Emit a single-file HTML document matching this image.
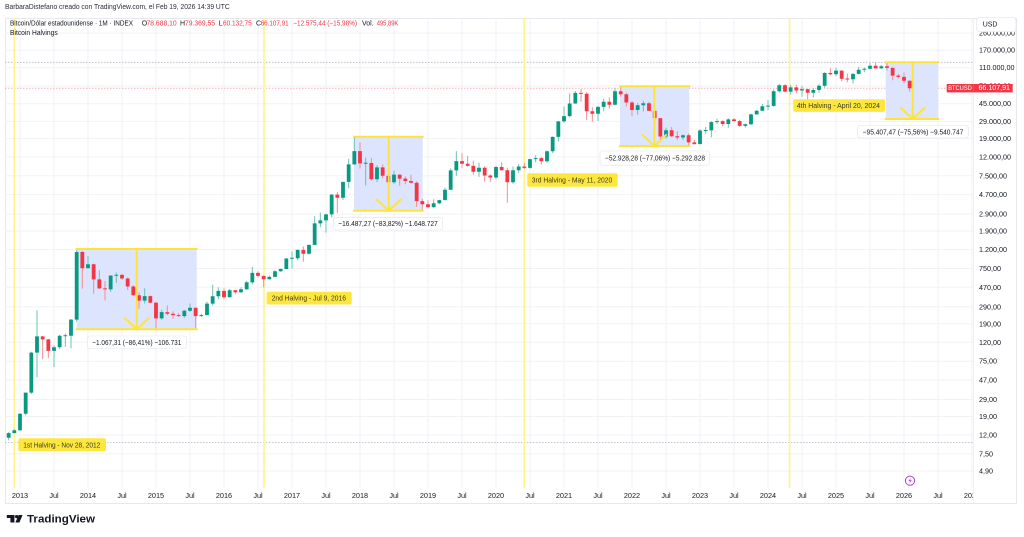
<!DOCTYPE html>
<html><head><meta charset="utf-8"><style>
html,body{margin:0;padding:0;background:#fff;}
svg{display:block;font-family:"Liberation Sans",sans-serif;}
</style></head><body>
<svg width="1024" height="537" viewBox="0 0 1024 537" xmlns="http://www.w3.org/2000/svg">
<defs>
<clipPath id="plot"><rect x="5" y="18" width="968" height="470"/></clipPath>
<clipPath id="taxis"><rect x="5" y="488" width="968" height="15"/></clipPath>
<clipPath id="yaxis"><rect x="974" y="32.2" width="50" height="460"/></clipPath>
</defs>
<rect width="1024" height="537" fill="#fff"/>
<rect x="5.5" y="18.5" width="1011" height="485" fill="none" stroke="#e6e8ee" stroke-width="1"/>
<line x1="973.5" y1="18" x2="973.5" y2="503" stroke="#eef0f4"/>
<!-- grid -->
<path fill="none" stroke="#f1f2f5" stroke-width="1" d="M5,33.1H973M5,50.2H973M5,67.7H973M5,85.9H973M5,103.7H973M5,121.4H973M5,138.4H973M5,156.9H973M5,175.8H973M5,194.6H973M5,214.1H973M5,231.1H973M5,249.6H973M5,268.5H973M5,287.3H973M5,306.8H973M5,323.8H973M5,342.3H973M5,361.2H973M5,380H973M5,399.5H973M5,416.5H973M5,435H973M5,453.9H973M5,471.1H973
M20,18V488M54,18V488M88,18V488M122,18V488M156,18V488M190,18V488M224,18V488M258,18V488M292,18V488M326,18V488M360,18V488M394,18V488M428,18V488M462,18V488M496,18V488M530,18V488M564,18V488M598,18V488M632,18V488M666,18V488M700,18V488M734,18V488M768,18V488M802,18V488M836,18V488M870,18V488M904,18V488M938,18V488M972,18V488"/>
<g clip-path="url(#plot)">
<line x1="5" y1="62.3" x2="973" y2="62.3" stroke="#b2b5be" stroke-width="0.8" stroke-dasharray="1.5,1.5"/>
<line x1="5" y1="442.5" x2="973" y2="442.5" stroke="#b2b5be" stroke-width="0.8" stroke-dasharray="1.5,1.5"/>
<line x1="5" y1="88.2" x2="973" y2="88.2" stroke="#f7a1a8" stroke-width="0.8" stroke-dasharray="1.5,1.5"/>
<g stroke="#fff38a" stroke-width="1.6">
<line x1="14.3" y1="18" x2="14.3" y2="488"/>
<line x1="264" y1="18" x2="264" y2="488"/>
<line x1="524.2" y1="18" x2="524.2" y2="488"/>
<line x1="789.6" y1="18" x2="789.6" y2="488"/>
</g>
<g fill="#dde4fd">
<rect x="76.7" y="249" width="120" height="80.3"/>
<rect x="354" y="136.7" width="68.7" height="74"/>
<rect x="620" y="86.3" width="69.3" height="59.7"/>
<rect x="885.7" y="62.3" width="52.6" height="56.7"/>
</g>
<!-- wicks -->
<path fill="none" stroke="#6cc3b3" stroke-width="1" d="M8.67,432.1V440.4M14.33,429.1V433.4M20,413.1V430.8M25.67,392.5V415.3M31.33,351.7V394M37,310.2V377.5M54,345.4V367M59.67,334.7V349.2M65.33,333.6V346.9M71,319V348.1M76.67,248.2V321.7M88,256.1V268.5M110.67,275.5V291.9M116.33,272.5V282.9M144.67,288.2V303.5M161.67,309.8V319.8M184.33,309.7V317.9M190,303.5V312M201.33,313.6V316.9M207,301.6V315.1M212.67,284.8V305.4M218.33,287.3V299.2M229.67,289V297.5M241,287.3V293.3M246.67,281V290M252.33,266.9V284.1M269.33,275.5V279.6M275,270.2V277.2M280.67,268.5V271.9M286.33,258.1V269.1M292,251.3V268.5M297.67,249.6V260.3M309,244.9V254.6M314.67,216.1V245.2M320.33,212.7V227.1M326,213.8V232.6M331.67,194V217.4M343,181.8V200M348.67,159V188.3M354.33,136.7V164.6M365.67,157.6V185.5M377,165.1V182M394,170.8V184.1M433.67,199.2V207.9M439.33,199.8V204.3M445,187.6V200.3M450.67,168.5V189.8M456.33,151.1V175.8M479,162.7V176.9M496,165.9V179.5M513,166.5V183.8M518.67,164V172.7M530,158.8V168.7M535.67,155.3V162.3M547,150.4V162.7M552.67,136.5V153.1M558.33,121V141.5M564,106.5V122.7M569.67,93.2V117.1M575.33,90.9V103.7M598,106.1V121M603.67,99V111.3M615,87.7V105.3M637.67,103V114.6M643.33,100.9V111.4M666,127.8V138.8M683,134.4V140.1M700,129.1V144.1M705.67,127V133.8M711.33,121.1V137.2M717,118.7V124M728.33,118.2V127.7M745.33,123.5V127.6M751,113.6V124.9M756.67,110.1V114.8M762.33,104V110.9M768,100.3V110M773.67,89.5V106.6M779.33,83.8V92.6M790.67,84.9V94.5M802,85.9V96.7M813.33,88V97.4M819,83.9V92.8M824.67,72.1V87.8M836,67.9V76.1M853,73.3V83.5M858.67,67V74.5M864.33,67.5V72.3M870,63.1V69.5M881.33,64.9V68.7"/>
<path fill="none" stroke="#f58c94" stroke-width="1" d="M42.67,336.1V359.1M48.33,339.1V358.1M82.33,251V288.6M93.67,263.5V293.8M99.33,270.2V289.1M105,281V300.4M122,273.7V279.9M127.67,277.5V290M133.33,285.3V296.4M139,292.4V308.9M150.33,295.4V302.8M156,301.6V329.2M167.33,305.4V315.2M173,311.2V318.8M178.67,313.1V316.9M195.67,307.6V328.3M224,288.2V299.2M235.33,290V294.3M258,271.3V277.5M263.67,275.8V287.3M303.33,246.4V261.6M337.33,192.1V213.1M360,142.4V168.5M371.33,157.9V181M382.67,164.3V178.3M388.33,174.4V186.5M399.67,174.5V185.6M405.33,176.4V184.1M411,174.9V183.5M416.67,181.3V206.9M422.33,198.9V210.8M428,200.1V208.1M462,153.1V168M467.67,155.9V166.7M473.33,160.6V174.8M484.67,166.3V181.6M490.33,174.5V182M501.67,162.3V170.6M507.33,167.6V202.7M524.33,162.7V168.9M541.33,156.7V164.6M581,89V101.9M586.67,92.3V120M592.33,107.1V121.7M609.33,97.2V108.8M620.67,86.5V96.8M626.33,92.7V106.5M632,101.1V116.3M649,101.6V111M654.67,108.4V124.3M660.33,118V141.5M671.67,127V137.2M677.33,131.2V140.1M688.67,133.5V146.6M694.33,139.7V144.6M722.67,120.3V126.1M734,118.1V121.5M739.67,119.8V126.9M785,84.3V92.3M796.33,84.8V93.2M807.67,88.8V100.3M830.33,68.3V75.6M841.67,70.4V81.4M847.33,73.6V82.3M875.67,62.7V68.7M887,62.2V70.2M892.67,67.3V80.3M898.33,73.8V78.6M904,72.4V83.4M909.67,80.4V91.9"/>
<!-- bodies -->
<path fill="#089981" d="M6.77,433.1h3.8V437.8h-3.8ZM12.43,430.3h3.8V433.1h-3.8ZM18.1,413.7h3.8V430.3h-3.8ZM23.77,392.6h3.8V413.7h-3.8ZM29.43,352.6h3.8V392.6h-3.8ZM35.1,336.4h3.8V352.6h-3.8ZM52.1,347.3h3.8V350.9h-3.8ZM57.77,335.8h3.8V347.3h-3.8ZM63.43,335.2h3.8V336.2h-3.8ZM69.1,319.6h3.8V335.7h-3.8ZM74.77,252h3.8V319.6h-3.8ZM86.1,264.3h3.8V268.2h-3.8ZM108.77,275.5h3.8V289.4h-3.8ZM114.43,274.7h3.8V275.7h-3.8ZM142.77,296.1h3.8V300.6h-3.8ZM159.77,312.1h3.8V318.4h-3.8ZM182.43,310.7h3.8V316.1h-3.8ZM188.1,307.7h3.8V310.7h-3.8ZM199.43,315.1h3.8V316.1h-3.8ZM205.1,303.6h3.8V315.1h-3.8ZM210.77,296.2h3.8V303.6h-3.8ZM216.43,290.9h3.8V296.2h-3.8ZM227.77,290.3h3.8V297.2h-3.8ZM239.1,289.3h3.8V292.3h-3.8ZM244.77,282.4h3.8V289.3h-3.8ZM250.43,272.9h3.8V282.4h-3.8ZM267.43,276.9h3.8V279.2h-3.8ZM273.1,271.3h3.8V276.9h-3.8ZM278.77,269h3.8V271.3h-3.8ZM284.43,258.5h3.8V269h-3.8ZM290.1,257.8h3.8V258.8h-3.8ZM295.77,249.9h3.8V258.2h-3.8ZM307.1,244.9h3.8V253.8h-3.8ZM312.77,223.4h3.8V244.9h-3.8ZM318.43,220.4h3.8V223.4h-3.8ZM324.1,214.4h3.8V220.4h-3.8ZM329.77,194.6h3.8V214.4h-3.8ZM341.1,181.9h3.8V197.8h-3.8ZM346.77,164.4h3.8V181.9h-3.8ZM352.43,151.1h3.8V164.4h-3.8ZM363.77,162.7h3.8V163.7h-3.8ZM375.1,167.4h3.8V179.2h-3.8ZM392.1,174.6h3.8V182.2h-3.8ZM431.77,203.2h3.8V207.1h-3.8ZM437.43,200.1h3.8V203.2h-3.8ZM443.1,189.8h3.8V200.1h-3.8ZM448.77,170.4h3.8V189.8h-3.8ZM454.43,161.1h3.8V170.4h-3.8ZM477.1,167.8h3.8V171.7h-3.8ZM494.1,167h3.8V177.5h-3.8ZM511.1,170.2h3.8V182.2h-3.8ZM516.77,166.5h3.8V170.2h-3.8ZM528.1,159.1h3.8V167.9h-3.8ZM533.77,158.1h3.8V159.1h-3.8ZM545.1,151.3h3.8V161.2h-3.8ZM550.77,136.9h3.8V151.3h-3.8ZM556.43,121.4h3.8V136.9h-3.8ZM562.1,116.1h3.8V121.4h-3.8ZM567.77,103.5h3.8V116.1h-3.8ZM573.43,92.9h3.8V103.5h-3.8ZM596.1,106.9h3.8V113.8h-3.8ZM601.77,101.8h3.8V106.9h-3.8ZM613.1,91.2h3.8V104.8h-3.8ZM635.77,105.2h3.8V110h-3.8ZM641.43,103.2h3.8V105.2h-3.8ZM664.1,130.2h3.8V136.5h-3.8ZM681.1,135.3h3.8V137.5h-3.8ZM698.1,130.5h3.8V144.1h-3.8ZM703.77,130h3.8V131h-3.8ZM709.43,122.1h3.8V130.4h-3.8ZM715.1,121.1h3.8V122.1h-3.8ZM726.43,119.4h3.8V124h-3.8ZM743.43,124.3h3.8V125.9h-3.8ZM749.1,114.4h3.8V124.3h-3.8ZM754.77,110.8h3.8V114.4h-3.8ZM760.43,106.2h3.8V110.8h-3.8ZM766.1,105.6h3.8V106.6h-3.8ZM771.77,91.3h3.8V105.9h-3.8ZM777.43,85.2h3.8V91.3h-3.8ZM788.77,87.4h3.8V91.6h-3.8ZM800.1,89.1h3.8V90.5h-3.8ZM811.43,90h3.8V92.8h-3.8ZM817.1,85.8h3.8V90h-3.8ZM822.77,73h3.8V85.8h-3.8ZM834.1,70.6h3.8V74.3h-3.8ZM851.1,73.9h3.8V79.3h-3.8ZM856.77,69.7h3.8V73.9h-3.8ZM862.43,68.8h3.8V69.8h-3.8ZM868.1,65.7h3.8V68.8h-3.8ZM879.43,66.3h3.8V68.4h-3.8Z"/>
<path fill="#f23645" d="M40.77,336.4h3.8V339.4h-3.8ZM46.43,339.4h3.8V350.9h-3.8ZM80.43,252h3.8V268.2h-3.8ZM91.77,264.3h3.8V279.4h-3.8ZM97.43,279.4h3.8V288.4h-3.8ZM103.1,288.4h3.8V289.4h-3.8ZM120.1,274.9h3.8V278.5h-3.8ZM125.77,278.5h3.8V286.5h-3.8ZM131.43,286.5h3.8V295.3h-3.8ZM137.1,295.3h3.8V300.6h-3.8ZM148.43,296.1h3.8V302.8h-3.8ZM154.1,302.8h3.8V318.4h-3.8ZM165.43,312.1h3.8V313.7h-3.8ZM171.1,313.7h3.8V315.1h-3.8ZM176.77,315.1h3.8V316.1h-3.8ZM193.77,307.7h3.8V316.1h-3.8ZM222.1,290.9h3.8V297.2h-3.8ZM233.43,290.3h3.8V292.3h-3.8ZM256.1,272.9h3.8V275.9h-3.8ZM261.77,275.9h3.8V279.2h-3.8ZM301.43,249.9h3.8V253.8h-3.8ZM335.43,194.6h3.8V197.8h-3.8ZM358.1,151.1h3.8V163.4h-3.8ZM369.43,163h3.8V179.2h-3.8ZM380.77,167.4h3.8V175.8h-3.8ZM386.43,175.8h3.8V182.2h-3.8ZM397.77,174.6h3.8V178.6h-3.8ZM403.43,178.6h3.8V181h-3.8ZM409.1,181h3.8V182.8h-3.8ZM414.77,182.8h3.8V201.1h-3.8ZM420.43,201.1h3.8V204.3h-3.8ZM426.1,204.3h3.8V207.1h-3.8ZM460.1,161.1h3.8V163.8h-3.8ZM465.77,163.8h3.8V165.9h-3.8ZM471.43,165.9h3.8V171.7h-3.8ZM482.77,167.8h3.8V175.5h-3.8ZM488.43,175.5h3.8V177.5h-3.8ZM499.77,167h3.8V170.3h-3.8ZM505.43,170.3h3.8V182.2h-3.8ZM522.43,166.5h3.8V167.9h-3.8ZM539.43,158.1h3.8V161.2h-3.8ZM579.1,92.9h3.8V93.9h-3.8ZM584.77,93.7h3.8V111.3h-3.8ZM590.43,111.3h3.8V113.8h-3.8ZM607.43,101.8h3.8V104.8h-3.8ZM618.77,91.2h3.8V94.2h-3.8ZM624.43,94.2h3.8V102.5h-3.8ZM630.1,102.5h3.8V110h-3.8ZM647.1,103.2h3.8V110.9h-3.8ZM652.77,110.9h3.8V118.1h-3.8ZM658.43,118.1h3.8V136.5h-3.8ZM669.77,130.2h3.8V136.3h-3.8ZM675.43,136.3h3.8V137.5h-3.8ZM686.77,135.3h3.8V142.4h-3.8ZM692.43,142.4h3.8V144.1h-3.8ZM720.77,121.1h3.8V124h-3.8ZM732.1,119.4h3.8V121.1h-3.8ZM737.77,121.1h3.8V125.9h-3.8ZM783.1,85.2h3.8V91.6h-3.8ZM794.43,87.4h3.8V90.5h-3.8ZM805.77,89.1h3.8V92.8h-3.8ZM828.43,73h3.8V74.3h-3.8ZM839.77,70.6h3.8V78.7h-3.8ZM845.43,78.5h3.8V79.5h-3.8ZM873.77,65.7h3.8V68.4h-3.8ZM885.1,66.3h3.8V67.9h-3.8ZM890.77,67.9h3.8V75.6h-3.8ZM896.43,75.6h3.8V76.9h-3.8ZM902.1,76.9h3.8V80.7h-3.8ZM907.77,80.7h3.8V88.2h-3.8Z"/>
<g stroke="#fde43c" stroke-width="2" fill="none" stroke-linecap="square">
<line x1="76.7" y1="249" x2="196.7" y2="249"/><line x1="76.7" y1="329.3" x2="196.7" y2="329.3"/>
<line x1="136.7" y1="249" x2="136.7" y2="329.3"/><polyline points="125,318.3 136.7,329.3 148.4,318.3"/>
<line x1="354" y1="136.7" x2="422.7" y2="136.7"/><line x1="354" y1="210.7" x2="422.7" y2="210.7"/>
<line x1="388.7" y1="136.7" x2="388.7" y2="210.7"/><polyline points="377,199.7 388.7,210.7 400.4,199.7"/>
<line x1="620" y1="86.3" x2="689.3" y2="86.3"/><line x1="620" y1="146" x2="689.3" y2="146"/>
<line x1="654.3" y1="86.3" x2="654.3" y2="146"/><polyline points="642.6,135 654.3,146 666,135"/>
<line x1="885.7" y1="62.3" x2="938.3" y2="62.3"/><line x1="885.7" y1="119" x2="938.3" y2="119"/>
<line x1="912.7" y1="62.3" x2="912.7" y2="119"/><polyline points="901,108 912.7,119 924.4,108"/>
</g>
</g>
<g font-size="7.4" fill="#131722">
<rect x="87.3" y="336" width="99.4" height="12.5" rx="2.5" fill="#fff" stroke="#e0e3eb" stroke-width="0.6"/>
<text x="92.3" y="342.3" dominant-baseline="central" textLength="89" lengthAdjust="spacingAndGlyphs">−1.067,31 (−86,41%) −106.731</text>
<rect x="333.3" y="217.3" width="109.4" height="12.7" rx="2.5" fill="#fff" stroke="#e0e3eb" stroke-width="0.6"/>
<text x="338.3" y="223.7" dominant-baseline="central" textLength="99.4" lengthAdjust="spacingAndGlyphs">−16.487,27 (−83,82%) −1.648.727</text>
<rect x="600" y="151" width="109.3" height="14.2" rx="2.5" fill="#fff" stroke="#e0e3eb" stroke-width="0.6"/>
<text x="605" y="158.1" dominant-baseline="central" textLength="100" lengthAdjust="spacingAndGlyphs">−52.928,28 (−77,06%) −5.292.828</text>
<rect x="857.7" y="125.5" width="110.6" height="12.5" rx="2.5" fill="#fff" stroke="#e0e3eb" stroke-width="0.6"/>
<text x="862.7" y="131.8" dominant-baseline="central" textLength="100.6" lengthAdjust="spacingAndGlyphs">−95.407,47 (−75,56%) −9.540.747</text>
</g>
<g font-size="7.2" fill="#3b3a20">
<rect x="18.3" y="438.3" width="87.7" height="13" rx="2" fill="#fde73f"/>
<text x="23.3" y="444.8" dominant-baseline="central" textLength="77" lengthAdjust="spacingAndGlyphs">1st Halving - Nov 28, 2012</text>
<rect x="266.7" y="291.7" width="85" height="12.8" rx="2" fill="#fde73f"/>
<text x="271.7" y="298.1" dominant-baseline="central" textLength="74.3" lengthAdjust="spacingAndGlyphs">2nd Halving - Jul 9, 2016</text>
<rect x="527.3" y="173.3" width="90.4" height="13.4" rx="2" fill="#fde73f"/>
<text x="531.7" y="180" dominant-baseline="central" textLength="80.6" lengthAdjust="spacingAndGlyphs">3rd Halving - May 11, 2020</text>
<rect x="793.3" y="99.3" width="91.7" height="12.6" rx="2" fill="#fde73f"/>
<text x="796.7" y="105.6" dominant-baseline="central" textLength="83.3" lengthAdjust="spacingAndGlyphs">4th Halving - April 20, 2024</text>
</g>
<!-- price axis labels -->
<g font-size="7.2" fill="#131722" dominant-baseline="central" clip-path="url(#yaxis)">
<text x="979" y="33.1">260.000,00</text>
<text x="979" y="50.2">170.000,00</text>
<text x="979" y="67.7">110.000,00</text>
<text x="979" y="85.9">70.000,00</text>
<text x="979" y="103.7">45.000,00</text>
<text x="979" y="121.4">29.000,00</text>
<text x="979" y="138.4">19.000,00</text>
<text x="979" y="156.9">12.000,00</text>
<text x="979" y="175.8">7.500,00</text>
<text x="979" y="194.6">4.700,00</text>
<text x="979" y="214.1">2.900,00</text>
<text x="979" y="231.1">1.900,00</text>
<text x="979" y="249.6">1.200,00</text>
<text x="979" y="268.5">750,00</text>
<text x="979" y="287.3">470,00</text>
<text x="979" y="306.8">290,00</text>
<text x="979" y="323.8">190,00</text>
<text x="979" y="342.3">120,00</text>
<text x="979" y="361.2">75,00</text>
<text x="979" y="380">47,00</text>
<text x="979" y="399.5">29,00</text>
<text x="979" y="416.5">19,00</text>
<text x="979" y="435">12,00</text>
<text x="979" y="453.9">7,50</text>
<text x="979" y="471.1">4,90</text>
</g>
<rect x="976.7" y="17.7" width="39.3" height="14" rx="2.5" fill="#fff" stroke="#e0e3eb" stroke-width="0.7"/>
<text x="982.7" y="24.8" font-size="7" fill="#131722" dominant-baseline="central">USD</text>
<rect x="946.7" y="84" width="26.6" height="8.4" fill="#f23645"/>
<text x="948.2" y="88.3" font-size="6.6" fill="#fff" dominant-baseline="central" textLength="23.6" lengthAdjust="spacingAndGlyphs">BTCUSD</text>
<rect x="973.3" y="84" width="39.4" height="8.4" fill="#f23645"/>
<text x="978.5" y="88.3" font-size="7" fill="#fff" dominant-baseline="central" textLength="31.5" lengthAdjust="spacingAndGlyphs">66.107,91</text>
<!-- time axis labels -->
<g font-size="7.3" fill="#131722" clip-path="url(#taxis)" text-anchor="middle" dominant-baseline="central">
<text x="20" y="495.3">2013</text><text x="54" y="495.3">Jul</text>
<text x="88" y="495.3">2014</text><text x="122" y="495.3">Jul</text>
<text x="156" y="495.3">2015</text><text x="190" y="495.3">Jul</text>
<text x="224" y="495.3">2016</text><text x="258" y="495.3">Jul</text>
<text x="292" y="495.3">2017</text><text x="326" y="495.3">Jul</text>
<text x="360" y="495.3">2018</text><text x="394" y="495.3">Jul</text>
<text x="428" y="495.3">2019</text><text x="462" y="495.3">Jul</text>
<text x="496" y="495.3">2020</text><text x="530" y="495.3">Jul</text>
<text x="564" y="495.3">2021</text><text x="598" y="495.3">Jul</text>
<text x="632" y="495.3">2022</text><text x="666" y="495.3">Jul</text>
<text x="700" y="495.3">2023</text><text x="734" y="495.3">Jul</text>
<text x="768" y="495.3">2024</text><text x="802" y="495.3">Jul</text>
<text x="836" y="495.3">2025</text><text x="870" y="495.3">Jul</text>
<text x="904" y="495.3">2026</text><text x="938" y="495.3">Jul</text>
<text x="972" y="495.3">2027</text>
</g>
<circle cx="910" cy="480.7" r="4.6" fill="#fff" stroke="#a347c8" stroke-width="1"/>
<path d="M911,477.6 L908.4,481.1 L910.2,481.1 L909.2,483.8 L911.8,480.2 L910,480.2 Z" fill="#a347c8"/>
<text x="5" y="7.5" font-size="7" fill="#2a2e39" dominant-baseline="central" textLength="224.7" lengthAdjust="spacingAndGlyphs">BarbaraDistefano creado con TradingView.com, el Feb 19, 2026 14:39 UTC</text>
<g font-size="7" dominant-baseline="central">
<text x="10" y="24.2" fill="#131722" textLength="123" lengthAdjust="spacingAndGlyphs">Bitcoin/Dólar estadounidense · 1M · INDEX</text>
<text x="141.7" y="24.2" fill="#131722">O</text>
<text x="146.5" y="24.2" fill="#f23645" textLength="30.2" lengthAdjust="spacingAndGlyphs">78.688,10</text>
<text x="180" y="24.2" fill="#131722">H</text>
<text x="185" y="24.2" fill="#f23645" textLength="30" lengthAdjust="spacingAndGlyphs">79.369,55</text>
<text x="218.7" y="24.2" fill="#131722">L</text>
<text x="223" y="24.2" fill="#f23645" textLength="28.7" lengthAdjust="spacingAndGlyphs">60.132,75</text>
<text x="256" y="24.2" fill="#131722">C</text>
<text x="260.7" y="24.2" fill="#f23645" textLength="28" lengthAdjust="spacingAndGlyphs">66.107,91</text>
<text x="293.3" y="24.2" fill="#f23645" textLength="63.7" lengthAdjust="spacingAndGlyphs">−12.575,44 (−15,98%)</text>
<text x="362" y="24.2" fill="#131722">Vol.</text>
<text x="376.7" y="24.2" fill="#f23645" textLength="21.6" lengthAdjust="spacingAndGlyphs">495,89K</text>
<text x="10" y="33.4" fill="#131722" textLength="47.7" lengthAdjust="spacingAndGlyphs">Bitcoin Halvings</text>
</g>
<g fill="#131722">
<rect x="6.8" y="515" width="7.6" height="3"/>
<rect x="10.4" y="515" width="4" height="7.5"/>
<circle cx="16.6" cy="516.6" r="1.6"/>
<path d="M18.6,515 L22.6,515 L19.4,522.5 L15.4,522.5 Z"/>
</g>
<text x="27" y="522.6" font-size="11" font-weight="bold" fill="#131722" textLength="68" lengthAdjust="spacingAndGlyphs">TradingView</text>
</svg>
</body></html>
